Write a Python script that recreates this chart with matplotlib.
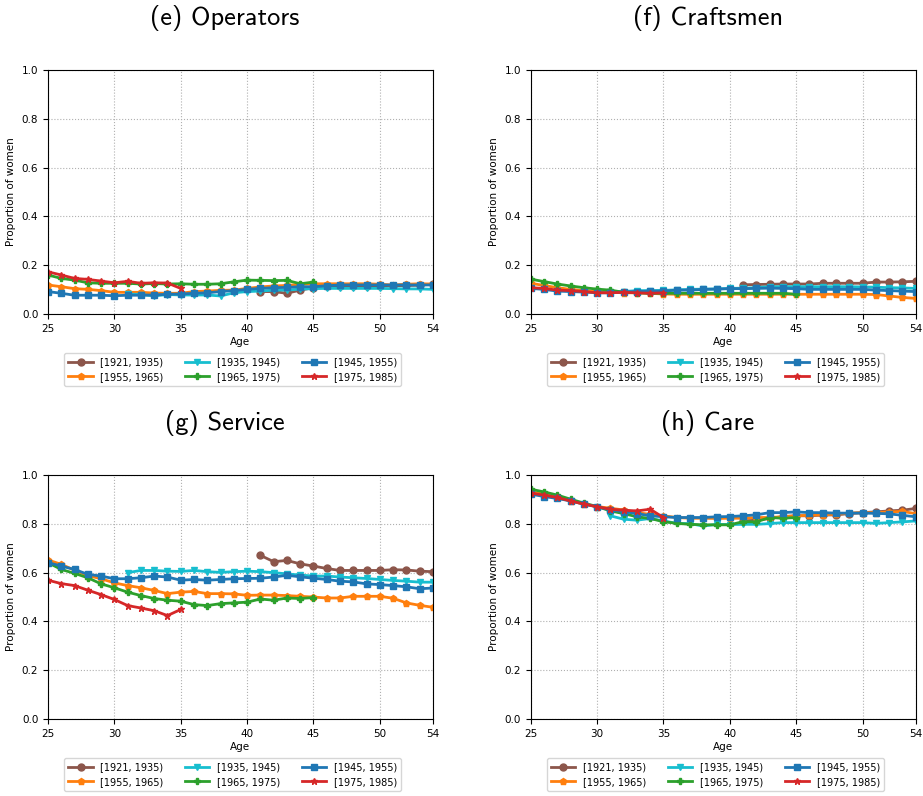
import os
import matplotlib
matplotlib.use('Agg')
import matplotlib.pyplot as plt
from matplotlib.font_manager import FontProperties
import numpy as np

# computer modern sans ships with matplotlib
CMSS = os.path.join(matplotlib.get_data_path(), 'fonts', 'ttf', 'cmss10.ttf')
title_font = FontProperties(fname=CMSS, size=19)

# cohorts in legend order
cohorts = ['[1921, 1935)', '[1955, 1965)', '[1935, 1945)',
           '[1965, 1975)', '[1945, 1955)', '[1975, 1985)']
colors = ['tab:brown', 'tab:orange', 'tab:cyan', 'tab:green', 'tab:blue', 'tab:red']
markers = ['o', 'p', 'v', 'P', 's', '*']
# first age observed per cohort
start_age = [41, 25, 31, 25, 25, 25]

titles = ['(e) Operators', '(f) Craftsmen', '(g) Service', '(h) Care']

# values per panel, per cohort (same order as cohorts)
operators = [
    [0.092, 0.092, 0.085, 0.098, 0.108, 0.115, 0.115, 0.115, 0.115, 0.115, 0.116, 0.117, 0.118, 0.123],
    [0.119, 0.112, 0.104, 0.101, 0.096, 0.089, 0.089, 0.089, 0.086, 0.085, 0.085, 0.092, 0.094, 0.097, 0.098,
     0.105, 0.111, 0.115, 0.117, 0.122, 0.124, 0.124, 0.124, 0.124, 0.124, 0.122, 0.119, 0.122, 0.124, 0.123],
    [0.082, 0.080, 0.074, 0.080, 0.078, 0.078, 0.078, 0.074, 0.087, 0.092, 0.094, 0.098, 0.098, 0.102, 0.104,
     0.105, 0.105, 0.105, 0.105, 0.105, 0.104, 0.103, 0.103, 0.101],
    [0.160, 0.146, 0.139, 0.128, 0.126, 0.126, 0.126, 0.123, 0.125, 0.123, 0.124, 0.122, 0.122, 0.124, 0.132,
     0.139, 0.138, 0.137, 0.138, 0.124, 0.131],
    [0.092, 0.085, 0.077, 0.077, 0.077, 0.075, 0.077, 0.077, 0.078, 0.081, 0.082, 0.085, 0.087, 0.092, 0.096,
     0.101, 0.105, 0.108, 0.109, 0.112, 0.112, 0.116, 0.119, 0.119, 0.119, 0.119, 0.119, 0.119, 0.119, 0.119],
    [0.173, 0.160, 0.146, 0.142, 0.135, 0.128, 0.134, 0.126, 0.128, 0.127, 0.105],
]

craftsmen = [
    [0.120, 0.121, 0.122, 0.123, 0.123, 0.123, 0.126, 0.126, 0.126, 0.126, 0.131, 0.131, 0.132, 0.134],
    [0.126, 0.117, 0.108, 0.101, 0.096, 0.092, 0.089, 0.087, 0.087, 0.085, 0.082, 0.081, 0.081, 0.081, 0.081,
     0.081, 0.081, 0.081, 0.081, 0.081, 0.081, 0.081, 0.081, 0.081, 0.081, 0.081, 0.080, 0.074, 0.068, 0.064],
    [0.092, 0.092, 0.096, 0.096, 0.097, 0.099, 0.101, 0.102, 0.103, 0.105, 0.106, 0.108, 0.112, 0.112, 0.112,
     0.112, 0.112, 0.112, 0.112, 0.111, 0.110, 0.108, 0.107, 0.105],
    [0.143, 0.133, 0.123, 0.115, 0.108, 0.102, 0.098, 0.089, 0.087, 0.085, 0.085, 0.085, 0.085, 0.085, 0.085,
     0.085, 0.085, 0.085, 0.085, 0.085, 0.081],
    [0.105, 0.101, 0.094, 0.092, 0.090, 0.087, 0.087, 0.090, 0.092, 0.094, 0.094, 0.098, 0.098, 0.101, 0.102,
     0.104, 0.104, 0.105, 0.106, 0.105, 0.104, 0.101, 0.101, 0.101, 0.101, 0.101, 0.098, 0.096, 0.094, 0.092],
    [0.108, 0.105, 0.098, 0.096, 0.092, 0.087, 0.087, 0.089, 0.087, 0.085, 0.087],
]

service = [
    [0.671, 0.645, 0.650, 0.636, 0.627, 0.617, 0.609, 0.609, 0.609, 0.609, 0.612, 0.611, 0.606, 0.604],
    [0.652, 0.634, 0.610, 0.588, 0.575, 0.558, 0.547, 0.538, 0.527, 0.514, 0.520, 0.523, 0.514, 0.514, 0.513,
     0.507, 0.508, 0.508, 0.506, 0.503, 0.500, 0.496, 0.496, 0.503, 0.503, 0.503, 0.495, 0.476, 0.466, 0.458],
    [0.600, 0.609, 0.609, 0.606, 0.605, 0.609, 0.604, 0.601, 0.604, 0.606, 0.604, 0.600, 0.595, 0.590, 0.586,
     0.586, 0.582, 0.579, 0.576, 0.572, 0.568, 0.565, 0.561, 0.561],
    [0.641, 0.613, 0.597, 0.579, 0.554, 0.538, 0.520, 0.506, 0.494, 0.487, 0.483, 0.469, 0.465, 0.473, 0.476,
     0.479, 0.492, 0.487, 0.496, 0.494, 0.498],
    [0.641, 0.627, 0.613, 0.593, 0.586, 0.575, 0.575, 0.579, 0.586, 0.582, 0.569, 0.572, 0.569, 0.572, 0.575,
     0.576, 0.577, 0.582, 0.589, 0.583, 0.577, 0.572, 0.565, 0.562, 0.554, 0.551, 0.547, 0.542, 0.534, 0.537],
    [0.569, 0.555, 0.547, 0.528, 0.510, 0.490, 0.465, 0.455, 0.444, 0.424, 0.449],
]

care = [
    [0.812, 0.815, 0.822, 0.830, 0.833, 0.833, 0.836, 0.837, 0.842, 0.846, 0.849, 0.853, 0.856, 0.863],
    [0.931, 0.922, 0.908, 0.894, 0.881, 0.871, 0.864, 0.857, 0.846, 0.839, 0.833, 0.826, 0.823, 0.823, 0.822,
     0.823, 0.823, 0.826, 0.826, 0.829, 0.833, 0.835, 0.837, 0.839, 0.844, 0.846, 0.846, 0.849, 0.851, 0.842],
    [0.833, 0.819, 0.815, 0.822, 0.812, 0.802, 0.801, 0.791, 0.798, 0.797, 0.798, 0.798, 0.801, 0.805, 0.805,
     0.805, 0.805, 0.805, 0.805, 0.805, 0.802, 0.805, 0.808, 0.812],
    [0.942, 0.931, 0.918, 0.901, 0.885, 0.871, 0.853, 0.842, 0.829, 0.822, 0.809, 0.802, 0.798, 0.796, 0.796,
     0.796, 0.809, 0.808, 0.826, 0.823, 0.826],
    [0.922, 0.912, 0.904, 0.894, 0.881, 0.870, 0.857, 0.850, 0.842, 0.833, 0.829, 0.826, 0.826, 0.826, 0.829,
     0.830, 0.833, 0.837, 0.846, 0.846, 0.849, 0.846, 0.846, 0.844, 0.844, 0.844, 0.843, 0.841, 0.835, 0.829],
    [0.926, 0.918, 0.908, 0.894, 0.881, 0.870, 0.860, 0.856, 0.853, 0.860, 0.826],
]

panels = [operators, craftsmen, service, care]

fig = plt.figure(figsize=(9.23, 7.96), dpi=100)
lefts = [0.052, 0.575]
bottoms = [0.6055, 0.0967]
W, H = 0.417, 0.3065

for k, (title, data) in enumerate(zip(titles, panels)):
    ax = fig.add_axes([lefts[k % 2], bottoms[k // 2], W, H])
    for label, c, m, a0, vals in zip(cohorts, colors, markers, start_age, data):
        x = np.arange(a0, a0 + len(vals))
        ax.plot(x, vals, color=c, marker=m, lw=2, ms=5, label=label)
    ax.set_xlim(25, 54)
    ax.set_ylim(0, 1)
    ax.set_xticks([25, 30, 35, 40, 45, 50, 54])
    ax.set_yticks(np.arange(0, 1.01, 0.2))
    ax.tick_params(labelsize=7.5)
    ax.grid(True, ls=':', color='#b0b0b0', lw=0.8)
    ax.set_xlabel('Age', fontsize=7.5, labelpad=2)
    ax.set_ylabel('Proportion of women', fontsize=7.5)
    # title sits slightly left of the axes centre, like the original
    ax.text(0.46, 1.213, title, transform=ax.transAxes,
            ha='center', va='center', fontproperties=title_font)
    ax.legend(loc='upper center', bbox_to_anchor=(0.48, -0.14), ncol=3,
              fontsize=7, handlelength=2.5, columnspacing=2.2, frameon=True)

fig.savefig('out.png', dpi=100)
